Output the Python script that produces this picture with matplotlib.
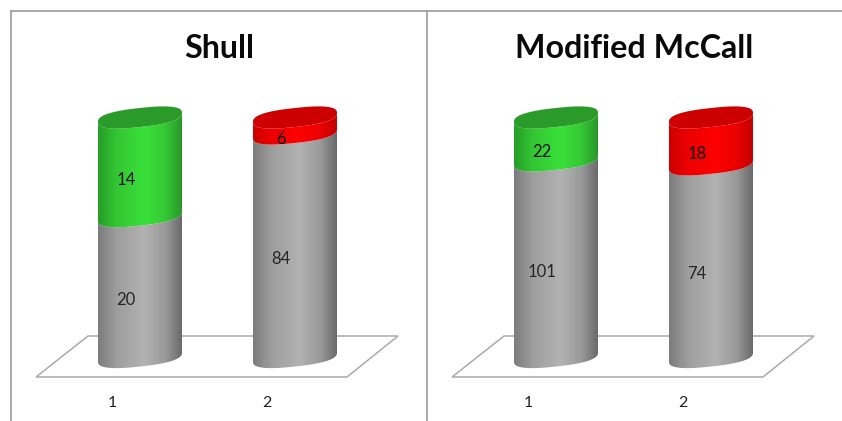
import numpy as np
import matplotlib
matplotlib.use("Agg")
import matplotlib.pyplot as plt
from matplotlib.colors import LinearSegmentedColormap, to_rgb
from matplotlib.patches import Polygon

# Counts per category, drawn as 100 % stacked cylinders
categories = [1, 2]
shull_base = [20, 84]
shull_top = [14, 6]
mccall_base = [101, 74]
mccall_top = [22, 18]
panel_titles = ["Shull", "Modified McCall"]

W, H = 842, 421
UNIT_X = 155.0      # pixels per category step
UNIT_Y = 239.5      # pixels for the full 100 % height
BASE_PX = 357.0     # pixel row of the stack's zero level

# Cylinder shape, in pixels; ROUNDNESS below 1 squares off the rim a little
RADIUS = 42.0
TILT = 4.5
MINOR = 9.5
ROUNDNESS = 0.78

GRAY = ("#7c7c7c", "#b2b2b2", "#6a6a6a")
GREEN = ("#279c27", "#3ae03a", "#2a982a")
RED = ("#cc0000", "#ff0000", "#c40000")
CAP = {"green": "#2a9a2a", "red": "#cc0000"}
FONT = ["Lato", "DejaVu Sans"]

plt.rcParams["font.family"] = FONT
fig = plt.figure(figsize=(W / 100, H / 100), dpi=100, facecolor="white")


def make_axes(left, right, top, bottom, first_center):
    ax = fig.add_axes([left / W, 1 - bottom / H, (right - left) / W, (bottom - top) / H])
    ax.set_xlim(1 + (left - first_center) / UNIT_X, 1 + (right - first_center) / UNIT_X)
    ax.set_ylim((BASE_PX - bottom) / UNIT_Y, (BASE_PX - top) / UNIT_Y)
    ax.set_xticks([])
    ax.set_yticks([])
    ax.spines["bottom"].set_visible(False)
    ax.spines["right"].set_visible(False)
    for side in ("top", "left"):
        ax.spines[side].set_color("#9c9c9c")
        ax.spines[side].set_linewidth(1.2)
    return ax


def rim(x, level, start, stop):
    """Points along a tilted, slightly squared elliptical rim between two angles."""
    t = np.linspace(start, stop, 120)
    c = np.sign(np.cos(t)) * np.abs(np.cos(t)) ** ROUNDNESS
    s = np.sign(np.sin(t)) * np.abs(np.sin(t)) ** ROUNDNESS
    xs = x + RADIUS / UNIT_X * c
    ys = level + (TILT * c - MINOR * s) / UNIT_Y
    return np.column_stack([xs, ys])


def shade_map(stops):
    """Horizontal shading: soft falloff from a highlight right of centre to both edges."""
    dark_l, light, dark_r = (np.array(to_rgb(c)) for c in stops)
    return LinearSegmentedColormap.from_list("shade", [
        (0.0, dark_l),
        (0.22, dark_l + 0.62 * (light - dark_l)),
        (0.55, light),
        (0.80, dark_r + 0.68 * (light - dark_r)),
        (1.0, dark_r),
    ])


def segment(ax, x, low, high, stops, z):
    """One shaded cylinder section spanning two stack fractions."""
    outline = np.vstack([rim(x, low, 0, np.pi), rim(x, high, np.pi, 0)])
    clip = Polygon(outline, closed=True, transform=ax.transData, facecolor="none", edgecolor="none")
    ax.add_patch(clip)
    half = RADIUS / UNIT_X
    image = ax.imshow(np.linspace(0, 1, 128).reshape(1, -1), cmap=shade_map(stops), aspect="auto",
                      extent=(x - half, x + half, low - 0.1, high + 0.1), zorder=z,
                      interpolation="bilinear")
    image.set_clip_path(clip)


def draw_panel(ax, title, base, top):
    limits = (ax.get_xlim(), ax.get_ylim())
    # Flat floor under the cylinders
    floor_x = np.array([36, 347, 398, 88])
    floor_y = np.array([377, 377, 336, 336])
    ax.add_patch(Polygon(np.column_stack([1 + (floor_x - 140) / UNIT_X, (BASE_PX - floor_y) / UNIT_Y]),
                         closed=True, facecolor="white", edgecolor="#ababab", linewidth=1.1, zorder=1))
    for i, cat in enumerate(categories):
        total = base[i] + top[i]
        split = base[i] / total
        colour, cap = (GREEN, CAP["green"]) if i == 0 else (RED, CAP["red"])
        segment(ax, cat, 0, split, GRAY, 2)
        segment(ax, cat, split, 1, colour, 3)
        ax.add_patch(Polygon(rim(cat, 1, 0, 2 * np.pi), closed=True, facecolor=cap,
                             edgecolor="none", zorder=4))
        # Value labels sit a little left of and below each section's middle
        label_x = cat - 14 / UNIT_X
        drop = 13.5 / UNIT_Y
        ax.text(label_x, split / 2 - drop, str(base[i]), ha="center", va="center",
                fontsize=12, color="#262626", zorder=5)
        ax.text(label_x, (split + 1) / 2 - drop, str(top[i]), ha="center", va="center",
                fontsize=12, color="#101010", zorder=5)
        ax.text(cat - 28 / UNIT_X, (BASE_PX - 403) / UNIT_Y, str(cat), ha="center", va="center",
                fontsize=11.5, color="#222222")
    ax.text(0.5, 1 - 37 / 410, title, transform=ax.transAxes, ha="center", va="center",
            fontsize=23.2, fontweight="bold", color="#0a0a0a")
    ax.set_xlim(limits[0])
    ax.set_ylim(limits[1])


left_ax = make_axes(11, 427, 11, 421, 140)
right_ax = make_axes(427, 842, 11, 421, 556)
draw_panel(left_ax, panel_titles[0], shull_base, shull_top)
draw_panel(right_ax, panel_titles[1], mccall_base, mccall_top)

fig.savefig("out.png", dpi=100)
